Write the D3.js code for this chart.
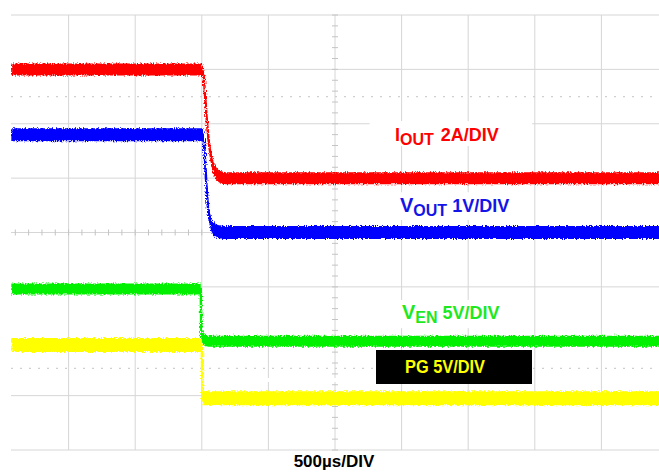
<!DOCTYPE html>
<html>
<head>
<meta charset="utf-8">
<script src="https://cdn.jsdelivr.net/npm/d3@7"></script>
<style>
  body { margin: 0; background: #fff; }
  svg { display: block; font-family: "Liberation Sans", Arial, sans-serif; font-weight: bold; }
</style>
</head>
<body>
<div id="chart"></div>
<script>
const width = 659;
const height = 472;

// scope settings: 500us/div, 10 x 8 divisions
const timeTicks = d3.range(-2500, 2501, 500);   // µs
const divTicks = d3.range(-4, 5);               // divisions
const dottedDivs = [2.5, -2.5];

// traces as [time µs, level in divisions from screen centre]
const ioutTrace = [[-2430, 3.0], [-1000, 3.0], [-985, 2.85], [-975, 2.5], [-962, 2.05], [-947, 1.65],
    [-932, 1.4], [-915, 1.2], [-895, 1.09], [-870, 1.03], [-830, 1.0], [2500, 1.0]];
const voutTrace = [[-2430, 1.8], [-995, 1.8], [-985, 1.7], [-975, 1.3], [-965, 0.85], [-955, 0.5],
    [-945, 0.3], [-930, 0.15], [-910, 0.06], [-880, 0.02], [-840, 0], [2500, 0]];
const venTrace = [[-2430, -1.04], [-1008, -1.04], [-1003, -1.9], [-995, -1.93], [-980, -1.98], [-950, -2.0], [2500, -2.0]];
const pgTrace = [[-2430, -2.07], [-1000, -2.07], [-995, -3.05], [2500, -3.05]];

const channelMain = ["I", "V", "V", "PG"];
const channelSub = ["OUT", "OUT", "EN", ""];
const channelScale = ["2A/DIV", "1V/DIV", "5V/DIV", "5V/DIV"];
const timebaseLabel = "500µs/DIV";

const x = d3.scaleLinear().domain([-2500, 2500]).range([2, 668]);
const y = d3.scaleLinear().domain([-4, 4]).range([450, 15]);

const svg = d3.select("#chart").append("svg")
    .attr("width", width)
    .attr("height", height);

const defs = svg.append("defs");
defs.append("clipPath").attr("id", "screen")
    .append("rect").attr("x", 11).attr("y", 0).attr("width", width - 11).attr("height", 460);

const fuzz = defs.append("filter").attr("id", "fuzz")
    .attr("x", "-5%").attr("y", "-20%").attr("width", "110%").attr("height", "140%");
fuzz.append("feTurbulence").attr("type", "fractalNoise").attr("baseFrequency", "0.9 0.6")
    .attr("numOctaves", 1).attr("seed", 3).attr("result", "noise");
fuzz.append("feDisplacementMap").attr("in", "SourceGraphic").attr("in2", "noise")
    .attr("scale", 5).attr("xChannelSelector", "R").attr("yChannelSelector", "G");

const screen = svg.append("g").attr("clip-path", "url(#screen)");

// graticule
screen.append("g").selectAll("line")
    .data(timeTicks)
    .join("line")
    .attr("x1", d => x(d)).attr("x2", d => x(d))
    .attr("y1", y(4)).attr("y2", y(-4))
    .attr("stroke", "#d6d6d6").attr("stroke-width", 1);

screen.append("g").selectAll("line")
    .data(divTicks)
    .join("line")
    .attr("x1", x(-2500)).attr("x2", x(2500))
    .attr("y1", d => y(d)).attr("y2", d => y(d))
    .attr("stroke", "#d6d6d6").attr("stroke-width", 1);

screen.append("g").selectAll("line")
    .data(dottedDivs)
    .join("line")
    .attr("x1", x(-2500)).attr("x2", x(2500))
    .attr("y1", d => y(d)).attr("y2", d => y(d))
    .attr("stroke", "#cfcfcf").attr("stroke-width", 1.2)
    .attr("stroke-dasharray", "2,7");

// minor ticks on centre axes
screen.append("g").selectAll("line")
    .data(d3.range(-2500, 2501, 100))
    .join("line")
    .attr("x1", d => x(d)).attr("x2", d => x(d))
    .attr("y1", y(0) - 3).attr("y2", y(0) + 3)
    .attr("stroke", "#c4c4c4");

screen.append("g").selectAll("line")
    .data(d3.range(-4, 4.01, 0.2))
    .join("line")
    .attr("x1", x(0) - 3).attr("x2", x(0) + 3)
    .attr("y1", d => y(d)).attr("y2", d => y(d))
    .attr("stroke", "#c4c4c4");

// white label backgrounds (div ranges)
const boxes = [[1.59, 2.05], [0.23, 0.74], [-1.76, -1.24]];
screen.append("g").selectAll("rect")
    .data(boxes)
    .join("rect")
    .attr("x", x(260)).attr("width", x(1480) - x(260))
    .attr("y", d => y(d[1])).attr("height", d => y(d[0]) - y(d[1]))
    .attr("fill", "#fff");

// traces
const traces = [
    { data: ioutTrace, color: "#ff0000", band: 12 },
    { data: voutTrace, color: "#0000ff", band: 13 },
    { data: venTrace, color: "#00f000", band: 11 },
    { data: pgTrace, color: "#ffff00", band: 14 }
];

const traceGroup = screen.append("g").attr("filter", "url(#fuzz)");
traces.forEach(tr => {
    const area = d3.area()
        .x(d => x(d[0]))
        .y0(d => y(d[1]) - tr.band / 2)
        .y1(d => y(d[1]) + tr.band / 2);
    const line = d3.line().x(d => x(d[0])).y(d => y(d[1]));
    traceGroup.append("path").attr("d", area(tr.data)).attr("fill", tr.color);
    traceGroup.append("path").attr("d", line(tr.data))
        .attr("fill", "none").attr("stroke", tr.color).attr("stroke-width", 2.5);
});

// PG label box
screen.append("rect")
    .attr("x", 376).attr("y", 350).attr("width", 156).attr("height", 34)
    .attr("fill", "#000");
screen.append("g").selectAll("rect")
    .data([-500, 0])
    .join("rect")
    .attr("x", d => x(d) - 1).attr("y", 378).attr("width", 2).attr("height", 4)
    .attr("fill", "#fff");

// channel labels
const labelPos = [[395, 141], [400, 212], [402, 319]];
const labelColor = ["#ff0000", "#1414e8", "#1ee81e"];
labelPos.forEach((p, i) => {
    const t = svg.append("text").attr("x", p[0]).attr("y", p[1]).attr("fill", labelColor[i]);
    t.append("tspan").attr("font-size", i === 0 ? 18 : 20).text(channelMain[i]);
    t.append("tspan").attr("font-size", 16).attr("dy", 4).text(channelSub[i]);
    t.append("tspan").attr("font-size", 18).attr("dy", -4).attr("dx", i === 0 ? 2 : 0).text(" " + channelScale[i]);
});

svg.append("text")
    .attr("x", 405).attr("y", 373)
    .attr("font-size", 18)
    .attr("textLength", 80).attr("lengthAdjust", "spacingAndGlyphs")
    .attr("fill", "#ffff00")
    .text(channelMain[3] + " " + channelScale[3]);

svg.append("text")
    .attr("x", 334).attr("y", 467)
    .attr("text-anchor", "middle")
    .attr("font-size", 17)
    .attr("fill", "#000")
    .text(timebaseLabel);
</script>
</body>
</html>
